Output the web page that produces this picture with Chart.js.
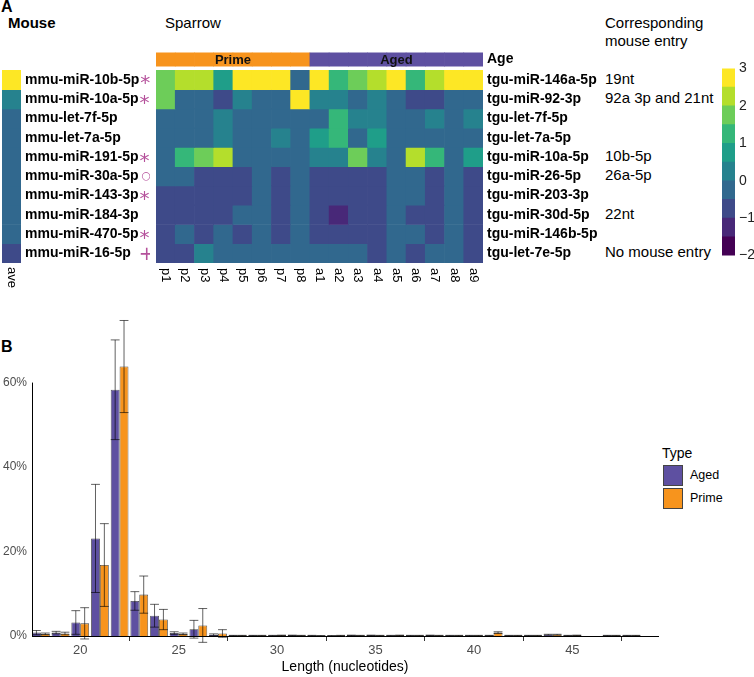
<!DOCTYPE html>
<html><head><meta charset="utf-8">
<script src="https://cdn.jsdelivr.net/npm/chart.js@4"></script>
<style>
body{margin:0;width:754px;height:677px;position:relative;background:#fff;font-family:"Liberation Sans",Arial,sans-serif;overflow:hidden}
canvas{position:absolute}
.t{position:absolute;white-space:nowrap;color:#000;line-height:1}
</style></head><body>
<div class="t" style="left:1px;top:-1px;font-weight:bold;font-size:16px">A</div>
<div class="t" style="left:8px;top:15px;font-weight:bold;font-size:15px">Mouse</div>
<div class="t" style="left:165px;top:15px;font-size:15px">Sparrow</div>
<div class="t" style="left:605px;top:14px;font-size:15px;line-height:18px">Corresponding<br>mouse entry</div>
<div class="t" style="left:1px;top:339px;font-weight:bold;font-size:16px">B</div>
<div id="entries"></div>
<div id="legend"></div>
<canvas id="ave" width="150" height="260" style="left:0;top:40px"></canvas>
<canvas id="heat" width="460" height="260" style="left:150px;top:40px"></canvas>
<canvas id="cbar" width="42" height="212" style="left:712px;top:56px"></canvas>
<canvas id="bars" width="754" height="377" style="left:0;top:300px"></canvas>
<script>
// ---------- data ----------
const columnLabels = ['p1','p2','p3','p4','p5','p6','p7','p8','a1','a2','a3','a4','a5','a6','a7','a8','a9'];
const ageGroups = ['Prime','Prime','Prime','Prime','Prime','Prime','Prime','Prime','Aged','Aged','Aged','Aged','Aged','Aged','Aged','Aged','Aged'];
const ageNames = ['Prime','Aged'];
const sparrowLabels = ['tgu-miR-146a-5p','tgu-miR-92-3p','tgu-let-7f-5p','tgu-let-7a-5p','tgu-miR-10a-5p','tgu-miR-26-5p','tgu-miR-203-3p','tgu-miR-30d-5p','tgu-miR-146b-5p','tgu-let-7e-5p'];
const mouseLabels = ['mmu-miR-10b-5p','mmu-miR-10a-5p','mmu-let-7f-5p','mmu-let-7a-5p','mmu-miR-191-5p','mmu-miR-30a-5p','mmu-miR-143-3p','mmu-miR-184-3p','mmu-miR-470-5p','mmu-miR-16-5p'];
const mouseMarks = ['*','*','','','*','○','*','','*','+'];
const mouseEntries = ['19nt','92a 3p and 21nt','','','10b-5p','26a-5p','','22nt','','No mouse entry'];
const aveValues = [2.8,0.3,-0.2,-0.2,-0.2,-0.2,-0.2,-0.2,-0.2,-0.7];
const heatValues = [
 [1.8,2.3,2.3,0.8,2.8,2.8,2.8,-0.2, 2.8,1.3,1.8,2.3,2.8,1.3,2.3,2.8,2.8],
 [1.8,-0.2,-0.2,-0.7,0.3,-0.2,-0.2,2.8, 0.3,0.3,-0.2,0.3,-0.2,-0.7,-0.7,-0.2,-0.2],
 [-0.2,-0.2,-0.2,0.3,-0.2,-0.2,-0.2,-0.2, -0.2,1.3,0.3,0.3,-0.2,-0.2,0.3,-0.2,0.3],
 [-0.2,-0.2,-0.2,0.3,-0.2,-0.2,0.3,-0.2, 0.8,1.3,-0.2,0.8,-0.2,-0.2,-0.2,-0.2,-0.2],
 [-0.2,1.3,1.8,2.3,-0.2,-0.2,-0.2,-0.2, 0.3,0.3,1.8,0.3,-0.2,2.3,1.3,-0.2,0.8],
 [-0.2,-0.2,-0.7,-0.7,-0.7,-0.2,-0.7,-0.2, -0.7,-0.7,-0.7,-0.7,-0.2,-0.2,-0.7,-0.2,-0.7],
 [-0.7,-0.7,-0.7,-0.7,-0.7,-0.2,-0.7,-0.2, -0.7,-0.7,-0.7,-0.7,-0.2,-0.2,-0.7,-0.2,-0.7],
 [-0.7,-0.7,-0.7,-0.7,-0.2,-0.2,-0.7,-0.2, -0.7,-1.3,-0.7,-0.7,-0.2,-0.7,-0.7,-0.2,-0.7],
 [-0.7,-0.2,-0.7,-0.2,-0.7,-0.2,-0.7,-0.2, -0.7,-0.7,-0.7,-0.7,-0.2,-0.2,-0.7,-0.2,-0.7],
 [-0.7,-0.7,0.4,-0.2,-0.2,-0.2,-0.2,-0.2, -0.2,-0.2,-0.2,-0.7,-0.2,-0.7,-0.2,-0.2,-0.7]
];
const colorbarTicks = [-2,-1,0,1,2,3];
const colorbarBins = [-2,-1.5,-1,-0.5,0,0.5,1,1.5,2,2.5];
const lengths =   [18,19,20,21,22,23,24,25,26,27,28,29,30,31,32,33,34,35,36,37,38,39,40,41,42,43,44,45,46,47,48];
const agedMean =  [0.8,0.8,3.2,23.1,58.3,8.3,4.8,0.7,1.6,0.3,0.1,0.1,0.1,0.15,0.1,0.05,0.15,0.15,0.1,0.1,0.15,0.1,0.1,0.1,0.1,0.1,0.3,0.1,0,0.1,0.1];
const agedErr =   [0.5,0.3,2.8,12.8,11.8,2.2,2.7,0.3,2.1,0.2,0.05,0.05,0.05,0.05,0.05,0.05,0.05,0.05,0.05,0.05,0.05,0.05,0.05,0.05,0.05,0.05,0.1,0.05,0,0.05,0.05];
const primeMean = [0.5,0.6,3.0,16.8,63.8,9.8,3.9,0.5,2.5,0.6,0.1,0.1,0.15,0.1,0.05,0.1,0.1,0.1,0.15,0.1,0.1,0.1,0.1,0.8,0.1,0.1,0.3,0.15,0,0.1,0.1];
const primeErr =  [0.2,0.3,3.7,9.8,10.9,4.4,2.4,0.2,4.0,0.9,0.05,0.05,0.05,0.05,0.05,0.05,0.05,0.05,0.05,0.05,0.05,0.05,0.05,0.2,0.05,0.05,0.1,0.05,0,0.05,0.05];

// ---------- styles ----------
const viridis10 = ['#440154','#482878','#3E4A89','#31688E','#26828E','#1F9E89','#35B779','#6DCD59','#B4DE2C','#FDE725'];
const colorFor = v => viridis10[Math.max(0, Math.min(9, Math.floor((v + 2) / 0.5)))];
const ageColor = {Prime:'#F7941D', Aged:'#5E50A1'};
const markColor = '#B5519B';
const FONT = '"Liberation Sans", Arial, sans-serif';
Chart.defaults.font.family = FONT;
Chart.defaults.animation = false;
Chart.defaults.events = [];
Chart.defaults.plugins.legend.display = false;
Chart.defaults.plugins.tooltip.enabled = false;

const AGE_LO = -0.93, AGE_HI = -0.21, ROW_MAX = 10;
const rowTicks = sparrowLabels.map((_, i) => i + 0.5);
const noTickGrid = { display: false, drawTicks: false, tickLength: 0 };

// ---------- HTML texts: mouse entries & legend ----------
(function(){
  const box = document.getElementById('entries');
  mouseEntries.forEach((t, i) => {
    if (!t) return;
    const d = document.createElement('div');
    d.className = 't';
    d.style.cssText = `left:605px;top:${70 + 19.3 * (i + 0.5) - 9}px;font-size:15px`;
    d.textContent = t;
    box.appendChild(d);
  });
  const lg = document.getElementById('legend');
  lg.innerHTML = `<div class="t" style="left:662px;top:446px;font-size:14px">Type</div>` +
    ageNames.slice().reverse().map((n, i) =>
      `<div style="position:absolute;left:663px;top:${465 + i * 23}px;width:20px;height:21px;background:${ageColor[n]};box-sizing:border-box;border:1px solid #444"></div>` +
      `<div class="t" style="left:690px;top:${469 + i * 23}px;font-size:12.5px">${n}</div>`).join('');
})();

// ---------- ave column ----------
new Chart(document.getElementById('ave'), {
  type: 'bar',
  data: { labels: ['ave'], datasets: aveValues.map((v, r) => ({
    data: [[r, r + 1]], backgroundColor: [colorFor(v)], borderWidth: 0 })) },
  options: {
    responsive: false, devicePixelRatio: 1,
    layout: { padding: { left: 2, top: 12, bottom: 37, right: 0 } },
    datasets: { bar: { grouped: false, barPercentage: 1, categoryPercentage: 1 } },
    scales: {
      x: { display: false },
      y: { type: 'linear', reverse: true, min: AGE_LO, max: ROW_MAX, position: 'right',
        grid: noTickGrid, border: { display: false },
        afterBuildTicks: s => { s.ticks = rowTicks.map(v => ({ value: v })); },
        afterFit: s => { s.width = 129; },
        ticks: { autoSkip: false, padding: 4, color: '#000', font: { weight: 'bold', size: 14 },
          callback: v => mouseLabels[Math.floor(v)] } }
    }
  },
  plugins: [{
    id: 'marks',
    afterDraw(chart) {
      const ctx = chart.ctx, y = chart.scales.y, ca = chart.chartArea;
      ctx.save();
      mouseLabels.forEach((lab, i) => {
        const m = mouseMarks[i]; if (!m) return;
        ctx.font = `bold 14px ${FONT}`;
        const w = ctx.measureText(lab).width;
        const cy = y.getPixelForValue(i + 0.5);
        let x = ca.right + 4 + w + 1, size = 20;
        if (m === '+') { x += 7; size = 19; }
        if (m === '○') { size = 11; x += 2; }
        ctx.font = `${size}px "DejaVu Sans", sans-serif`;
        const mt = ctx.measureText(m);
        ctx.fillStyle = markColor;
        ctx.textBaseline = 'alphabetic';
        ctx.textAlign = 'left';
        const off = (mt.actualBoundingBoxAscent - mt.actualBoundingBoxDescent) / 2;
        ctx.fillText(m, x, cy + off);
      });
      // rotated "ave" label
      ctx.translate((ca.left + ca.right) / 2, ca.bottom + 4);
      ctx.rotate(Math.PI / 2);
      ctx.font = `13px ${FONT}`;
      ctx.fillStyle = '#000';
      ctx.textAlign = 'left'; ctx.textBaseline = 'middle';
      ctx.fillText(chart.data.labels[0], 0, 0);
      ctx.restore();
    }
  }]
});

// ---------- main heatmap ----------
const heatDatasets = heatValues.map((row, r) => ({
  data: row.map(() => [r, r + 1]), backgroundColor: row.map(colorFor), borderWidth: 0 }));
heatDatasets.push({ data: ageGroups.map(() => [AGE_LO, AGE_HI]),
  backgroundColor: ageGroups.map(g => ageColor[g]), borderWidth: 0 });

new Chart(document.getElementById('heat'), {
  type: 'bar',
  data: { labels: columnLabels, datasets: heatDatasets },
  options: {
    responsive: false, devicePixelRatio: 1,
    layout: { padding: { left: 6, top: 12, bottom: 37, right: 0 } },
    datasets: { bar: { grouped: false, barPercentage: 1, categoryPercentage: 1 } },
    scales: {
      x: { display: false },
      y: { type: 'linear', reverse: true, min: AGE_LO, max: ROW_MAX, position: 'right',
        grid: noTickGrid, border: { display: false },
        afterBuildTicks: s => { s.ticks = [{ value: (AGE_LO + AGE_HI) / 2 }].concat(rowTicks.map(v => ({ value: v }))); },
        afterFit: s => { s.width = 127; },
        ticks: { autoSkip: false, padding: 4, color: '#000', font: { weight: 'bold', size: 14 },
          callback: v => v < 0 ? 'Age' : sparrowLabels[Math.floor(v)] } }
    }
  },
  plugins: [{
    id: 'heatText',
    afterDraw(chart) {
      const ctx = chart.ctx, xs = chart.scales.x, ys = chart.scales.y, ca = chart.chartArea;
      ctx.save();
      ctx.font = `bold 13px ${FONT}`; ctx.fillStyle = '#111';
      ctx.textAlign = 'center'; ctx.textBaseline = 'middle';
      const yMid = ys.getPixelForValue((AGE_LO + AGE_HI) / 2);
      ageNames.forEach(n => {
        const idx = ageGroups.map((g, i) => g === n ? i : -1).filter(i => i >= 0);
        const cx = (xs.getPixelForValue(idx[0]) + xs.getPixelForValue(idx[idx.length - 1])) / 2;
        ctx.fillText(n, cx, yMid + 1);
      });
      ctx.font = `13px ${FONT}`; ctx.fillStyle = '#000';
      ctx.textAlign = 'left';
      columnLabels.forEach((lab, i) => {
        ctx.save();
        ctx.translate(xs.getPixelForValue(i), ca.bottom + 5);
        ctx.rotate(Math.PI / 2);
        ctx.fillText(lab, 0, 0);
        ctx.restore();
      });
      ctx.restore();
    }
  }]
});

// ---------- colour bar ----------
new Chart(document.getElementById('cbar'), {
  type: 'bar',
  data: { labels: [''], datasets: colorbarBins.map(b => ({
    data: [[b, b + 0.5]], backgroundColor: [colorFor(b + 0.25)], borderWidth: 0 })) },
  options: {
    responsive: false, devicePixelRatio: 1,
    layout: { padding: { left: 10, top: 10, bottom: 10, right: 0 } },
    datasets: { bar: { grouped: false, barPercentage: 1, categoryPercentage: 1 } },
    scales: {
      x: { display: false },
      y: { type: 'linear', min: -2, max: 3, position: 'right',
        grid: noTickGrid, border: { display: false },
        afterBuildTicks: s => { s.ticks = colorbarTicks.map(v => ({ value: v })); },
        afterFit: s => { s.width = 19; },
        ticks: { padding: 4, color: '#222', font: { size: 14 },
          callback: v => (v < 0 ? '\u2212' + Math.abs(v) : String(v)) } }
    }
  }
});

// ---------- length distribution ----------
const mk = (m) => lengths.map((x, i) => ({ x, y: m[i] }));
new Chart(document.getElementById('bars'), {
  type: 'bar',
  data: { datasets: [
    { label: 'Aged', data: mk(agedMean), err: agedErr, backgroundColor: ageColor.Aged,
      borderColor: 'rgba(0,0,0,0.75)', borderWidth: 0.8 },
    { label: 'Prime', data: mk(primeMean), err: primeErr, backgroundColor: ageColor.Prime,
      borderColor: 'rgba(0,0,0,0.75)', borderWidth: 0.8 }
  ] },
  options: {
    responsive: false, devicePixelRatio: 1,
    layout: { padding: { left: 0, top: 15, bottom: 0, right: 96 } },
    datasets: { bar: { barPercentage: 1, categoryPercentage: 0.9 } },
    scales: {
      x: { type: 'linear', min: 17.55, max: 49.35, offset: false,
        afterBuildTicks: s => { s.ticks = [20, 25, 30, 35, 40, 45].map(v => ({ value: v })); },
        afterFit: s => { s.height = 41; },
        grid: { display: true, drawOnChartArea: false, drawTicks: true, tickLength: 5, tickColor: '#333' },
        border: { display: true, color: '#000', width: 1 },
        ticks: { padding: 2, color: '#4d4d4d', font: { size: 13 } },
        title: { display: true, text: 'Length (nucleotides)', color: '#000', font: { size: 14 }, padding: { top: 0, bottom: 1 } } },
      y: { min: 0, max: 76,
        afterBuildTicks: s => { s.ticks = [0, 20, 40, 60].map(v => ({ value: v })); },
        afterFit: s => { s.width = 32; },
        grid: noTickGrid, border: { display: false },
        ticks: { padding: 5, color: '#4d4d4d', font: { size: 12 }, callback: v => v + '%' } }
    }
  },
  plugins: [{
    id: 'errAxis',
    afterDatasetsDraw(chart) {
      const ctx = chart.ctx, ys = chart.scales.y;
      ctx.save();
      ctx.strokeStyle = 'rgba(0,0,0,0.62)'; ctx.lineWidth = 1;
      chart.data.datasets.forEach((ds, di) => {
        const meta = chart.getDatasetMeta(di);
        meta.data.forEach((el, i) => {
          const m = ds.data[i].y, e = ds.err[i];
          if (!e) return;
          const top = ys.getPixelForValue(m + e), bot = ys.getPixelForValue(m - e);
          const hw = el.width / 2;
          ctx.beginPath();
          ctx.moveTo(el.x, top); ctx.lineTo(el.x, bot);
          ctx.moveTo(el.x - hw, top); ctx.lineTo(el.x + hw, top);
          ctx.moveTo(el.x - hw, bot); ctx.lineTo(el.x + hw, bot);
          ctx.stroke();
        });
      });
      ctx.restore();
    },
    afterDraw(chart) {
      const ctx = chart.ctx, ys = chart.scales.y, x = Math.round(chart.chartArea.left) + 0.5;
      ctx.save();
      ctx.strokeStyle = '#000'; ctx.lineWidth = 1;
      ctx.beginPath();
      ctx.moveTo(x, ys.getPixelForValue(0)); ctx.lineTo(x, ys.getPixelForValue(60));
      ctx.stroke();
      ctx.restore();
    }
  }]
});
</script>
</body></html>
